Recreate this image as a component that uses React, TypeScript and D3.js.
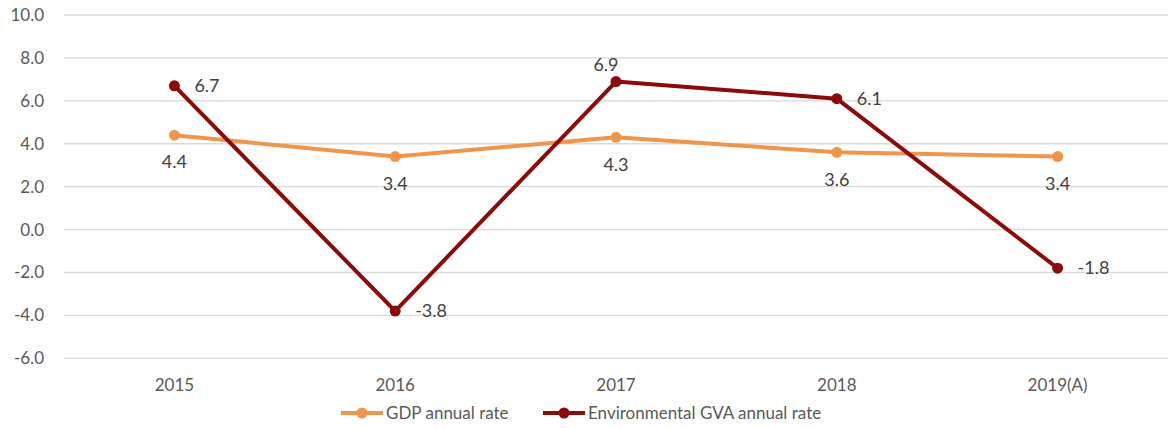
import React from "react";
import * as d3 from "d3";

const categories = ["2015", "2016", "2017", "2018", "2019(A)"];
const gdpValues = [4.4, 3.4, 4.3, 3.6, 3.4];
const envValues = [6.7, -3.8, 6.9, 6.1, -1.8];
const yTicks = [10, 8, 6, 4, 2, 0, -2, -4, -6];
const seriesNames = ["GDP annual rate", "Environmental GVA annual rate"];
// label placement per point for env series
const envLabelPos = ["right", "right", "above", "right", "right"];

const W = 1168;
const H = 428;
const FONT = "Lato, 'Open Sans', sans-serif";
const TEXT = "#595959";
const GDP_C = "#F0954A";
const ENV_C = "#8B0A0A";

export default function App() {
  const x = d3.scaleBand<string>().domain(categories).range([64, 1168]);
  const y = d3.scaleLinear().domain([-6, 10]).range([358.3, 15]);
  const cx = (c: string) => (x(c) as number) + x.bandwidth() / 2;
  const line = d3
    .line<number>()
    .x((_, i) => cx(categories[i]))
    .y((d) => y(d));

  return (
    <svg
      width={W}
      height={H}
      style={{ position: "absolute", left: 0, top: 0, background: "#fff" }}
      fontFamily={FONT}
    >
      {yTicks.map((t) => (
        <g key={t}>
          <line x1={64} x2={1168} y1={y(t)} y2={y(t)} stroke="#d9d9d9" strokeWidth={1.3} />
          <text x={44} y={y(t)} dy="0.35em" textAnchor="end" fontSize={17} fill={TEXT}>
            {t.toFixed(1)}
          </text>
        </g>
      ))}
      {categories.map((c) => (
        <text key={c} x={cx(c)} y={385} dy="0.35em" textAnchor="middle" fontSize={17} fill={TEXT}>
          {c}
        </text>
      ))}
      <path d={line(gdpValues) || ""} fill="none" stroke={GDP_C} strokeWidth={4} strokeLinejoin="round" />
      {gdpValues.map((v, i) => (
        <g key={"g" + i}>
          <circle cx={cx(categories[i])} cy={y(v)} r={5.5} fill={GDP_C} />
          <text x={cx(categories[i])} y={y(v) + 27} dy="0.35em" textAnchor="middle" fontSize={18} fill="#404040">
            {v.toFixed(1)}
          </text>
        </g>
      ))}
      <path d={line(envValues) || ""} fill="none" stroke={ENV_C} strokeWidth={4} strokeLinejoin="round" />
      {envValues.map((v, i) => {
        const px = cx(categories[i]);
        const py = y(v);
        const pos = envLabelPos[i];
        return (
          <g key={"e" + i}>
            <circle cx={px} cy={py} r={5.5} fill={ENV_C} />
            {pos === "right" ? (
              <text x={px + 20} y={py} dy="0.35em" textAnchor="start" fontSize={18} fill="#404040">
                {v.toFixed(1)}
              </text>
            ) : (
              <text x={px - 10} y={py - 17} dy="0.35em" textAnchor="middle" fontSize={18} fill="#404040">
                {v.toFixed(1)}
              </text>
            )}
          </g>
        );
      })}
      {/* legend */}
      <g>
        <line x1={341} x2={383} y1={413} y2={413} stroke={GDP_C} strokeWidth={4} />
        <circle cx={362} cy={413} r={5.5} fill={GDP_C} />
        <text x={386} y={413} dy="0.35em" fontSize={17} fill={TEXT}>
          {seriesNames[0]}
        </text>
        <line x1={543} x2={585} y1={413} y2={413} stroke={ENV_C} strokeWidth={4} />
        <circle cx={564} cy={413} r={5.5} fill={ENV_C} />
        <text x={588} y={413} dy="0.35em" fontSize={17} fill={TEXT}>
          {seriesNames[1]}
        </text>
      </g>
    </svg>
  );
}
